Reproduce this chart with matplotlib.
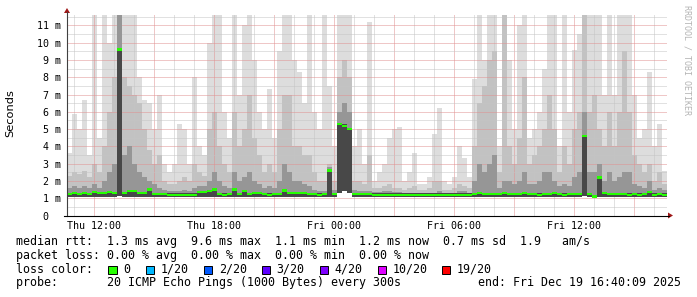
import matplotlib
matplotlib.use("Agg")
import matplotlib.pyplot as plt
from matplotlib.lines import Line2D
from matplotlib.patches import Polygon, Rectangle
import numpy as np

# ---------------- data (values in ms, one value per 15-minute step) ----------------
start_hour = 10 + 40 / 60          # Thu 10:40
step_hours = 0.25

smoke_max = [
    3.6, 5.9, 5.0, 6.7, 3.5, 11.6, 4.5, 11.6, 10.0, 11.6,
    11.6, 11.6, 11.6, 11.6, 8.0, 6.7, 6.5, 5.0, 7.0, 3.0,
    2.5, 3.0, 5.3, 5.0, 3.0, 8.0, 4.0, 3.5, 10.0, 11.6,
    11.6, 6.0, 4.5, 11.6, 7.0, 11.0, 11.6, 9.0, 6.0, 5.0,
    7.3, 4.5, 9.5, 11.6, 11.6, 9.0, 8.3, 6.5, 11.6, 6.0,
    5.0, 11.6, 7.5, 4.0, 11.6, 11.6, 11.6, 4.0, 5.0, 3.0,
    11.2, 2.0, 2.5, 3.0, 4.5, 5.0, 5.1, 2.0, 2.5, 3.6,
    1.8, 1.8, 2.2, 4.7, 6.2, 2.0, 1.8, 2.2, 4.0, 3.3,
    2.2, 7.9, 11.6, 9.0, 11.6, 11.6, 4.0, 11.6, 9.0, 5.0,
    11.0, 11.6, 4.5, 5.0, 6.0, 8.5, 11.6, 11.6, 4.0, 11.6,
    6.0, 9.6, 10.5, 11.6, 11.6, 11.6, 11.6, 7.0, 11.6, 7.0,
    11.6, 11.6, 11.6, 7.0, 4.5, 5.0, 8.3, 4.0, 5.3, 2.6,
]
smoke_mid = [
    2.3, 2.5, 2.4, 2.6, 2.2, 3.0, 2.5, 4.0, 6.0, 8.0,
    11.6, 8.0, 7.5, 7.0, 6.5, 5.0, 3.8, 3.0, 3.5, 2.0,
    1.8, 1.8, 2.0, 2.2, 2.0, 3.0, 2.5, 2.3, 5.0, 6.0,
    4.0, 3.0, 2.5, 6.0, 4.0, 5.0, 7.0, 4.5, 3.5, 2.5,
    3.0, 2.5, 5.0, 7.0, 7.0, 4.0, 4.0, 3.5, 3.5, 2.5,
    2.0, 2.0, 3.0, 2.0, 8.0, 9.0, 8.0, 2.0, 2.0, 1.8,
    3.5, 1.6, 1.6, 1.7, 1.8, 1.6, 1.6, 1.5, 1.6, 1.7,
    1.5, 1.5, 1.6, 2.0, 2.0, 1.5, 1.5, 1.6, 1.8, 1.7,
    1.6, 4.0, 6.5, 7.5, 9.0, 9.5, 2.5, 11.6, 4.0, 3.0,
    4.5, 8.0, 3.0, 3.5, 4.0, 5.0, 7.0, 5.0, 2.5, 4.0,
    3.0, 5.0, 6.0, 11.6, 6.0, 7.0, 5.0, 4.0, 6.0, 4.0,
    6.0, 9.5, 6.0, 3.5, 3.0, 2.5, 3.0, 2.0, 2.5, 1.8,
]
smoke_dark = [
    1.6, 1.7, 1.6, 1.7, 1.6, 1.8, 1.6, 2.0, 2.5, 3.0,
    11.6, 3.5, 4.0, 3.0, 2.5, 2.2, 2.0, 1.8, 1.6, 1.5,
    1.4, 1.4, 1.4, 1.5, 1.4, 1.6, 1.7, 1.7, 2.0, 2.5,
    2.0, 1.7, 1.6, 2.5, 2.0, 2.2, 2.5, 2.0, 1.8, 1.6,
    1.7, 1.6, 2.0, 3.0, 2.5, 2.0, 2.0, 1.8, 1.7, 1.5,
    1.4, 1.4, 2.8, 1.5, 6.0, 6.5, 6.0, 1.5, 1.4, 1.4,
    1.4, 1.35, 1.35, 1.4, 1.4, 1.35, 1.35, 1.3, 1.3, 1.3,
    1.3, 1.3, 1.3, 1.3, 1.4, 1.3, 1.3, 1.3, 1.4, 1.4,
    1.3, 2.0, 3.0, 2.5, 3.0, 3.5, 1.6, 2.0, 2.0, 1.8,
    2.0, 2.5, 1.8, 1.8, 2.0, 2.5, 2.5, 2.0, 1.7, 1.8,
    1.7, 2.2, 2.5, 6.0, 2.5, 2.5, 3.0, 2.0, 2.5, 2.0,
    2.2, 2.5, 2.5, 1.8, 1.7, 1.6, 2.0, 1.5, 1.6, 1.5,
]
smoke_min = [
    1.06, 1.07, 1.06, 1.07, 1.06, 1.07, 1.06, 1.07, 1.08, 1.07,
    1.10, 1.07, 1.08, 1.08, 1.07, 1.07, 1.08, 1.06, 1.06, 1.06,
    1.05, 1.05, 1.05, 1.05, 1.05, 1.05, 1.07, 1.07, 1.08, 1.08,
    1.06, 1.05, 1.06, 1.08, 1.06, 1.07, 1.06, 1.07, 1.07, 1.06,
    1.05, 1.06, 1.06, 1.08, 1.07, 1.07, 1.07, 1.07, 1.06, 1.06,
    1.05, 1.06, 1.07, 1.06, 1.30, 1.40, 1.30, 1.06, 1.06, 1.06,
    1.06, 1.05, 1.05, 1.05, 1.05, 1.05, 1.05, 1.05, 1.05, 1.05,
    1.05, 1.05, 1.05, 1.05, 1.05, 1.05, 1.05, 1.05, 1.05, 1.05,
    1.05, 1.06, 1.07, 1.06, 1.06, 1.06, 1.06, 1.07, 1.06, 1.06,
    1.06, 1.07, 1.06, 1.06, 1.05, 1.06, 1.06, 1.07, 1.06, 1.05,
    1.06, 1.06, 1.06, 1.10, 1.06, 1.00, 1.08, 1.07, 1.06, 1.06,
    1.06, 1.06, 1.05, 1.06, 1.05, 1.06, 1.07, 1.05, 1.06, 1.05,
]
median_rtt = [
    1.25, 1.3, 1.25, 1.3, 1.25, 1.35, 1.3, 1.3, 1.35, 1.3,
    9.6, 1.3, 1.4, 1.4, 1.3, 1.3, 1.5, 1.25, 1.25, 1.25,
    1.2, 1.2, 1.2, 1.2, 1.2, 1.2, 1.35, 1.35, 1.4, 1.5,
    1.25, 1.2, 1.25, 1.5, 1.25, 1.4, 1.25, 1.3, 1.3, 1.25,
    1.2, 1.25, 1.25, 1.45, 1.3, 1.3, 1.3, 1.3, 1.25, 1.25,
    1.2, 1.25, 2.6, 1.25, 5.3, 5.2, 5.0, 1.25, 1.25, 1.25,
    1.25, 1.2, 1.2, 1.2, 1.2, 1.2, 1.2, 1.2, 1.2, 1.2,
    1.2, 1.2, 1.2, 1.2, 1.2, 1.2, 1.2, 1.2, 1.2, 1.2,
    1.2, 1.25, 1.3, 1.25, 1.25, 1.25, 1.25, 1.3, 1.25, 1.25,
    1.25, 1.3, 1.25, 1.25, 1.2, 1.25, 1.25, 1.3, 1.25, 1.2,
    1.25, 1.25, 1.25, 4.6, 1.25, 1.1, 2.2, 1.3, 1.25, 1.25,
    1.25, 1.25, 1.2, 1.25, 1.2, 1.25, 1.35, 1.2, 1.25, 1.2,
]

y_ticks = [0, 1, 2, 3, 4, 5, 6, 7, 8, 9, 10, 11]
y_tick_labels = [" 0", " 1 m", " 2 m", " 3 m", " 4 m", " 5 m", " 6 m",
                 " 7 m", " 8 m", " 9 m", "10 m", "11 m"]
x_major_ticks = [12, 15, 18, 21, 24, 27, 30, 33, 36, 39]
x_major_labels = ["Thu 12:00", "", "Thu 18:00", "", "Fri 00:00", "",
                  "Fri 06:00", "", "Fri 12:00", ""]

loss_labels = ["0", "1/20", "2/20", "3/20", "4/20", "10/20", "19/20"]
loss_colors = ["#26ff00", "#00b8ff", "#0059ff", "#5e00ff", "#7e00ff", "#dd00ff", "#ff0000"]

legend_line1 = "median rtt:  1.3 ms avg  9.6 ms max  1.1 ms min  1.2 ms now  0.7 ms sd  1.9   am/s"
legend_line2 = "packet loss: 0.00 % avg  0.00 % max  0.00 % min  0.00 % now"
legend_line3 = "loss color:"
legend_line4 = "probe:       20 ICMP Echo Pings (1000 Bytes) every 300s"
legend_end = "end: Fri Dec 19 16:40:09 2025"

# ---------------- figure ----------------
W, H = 697, 297
DPI = 100
fig = plt.figure(figsize=(W / DPI, H / DPI), dpi=DPI)
fig.patch.set_facecolor("white")

L, R, B, T = 67, 667, 215.5, 14
px_per_ms = 17.28
ax = fig.add_axes([L / W, 1 - B / H, (R - L) / W, (B - T) / H])
ax.set_facecolor("white")
ax.set_xlim(start_hour, start_hour + 30)
ax.set_ylim(0, (B - T) / px_per_ms)

n = len(median_rtt)
edges = start_hour + step_hours * np.arange(n + 1)
lo = np.array(smoke_min)
med = np.array(median_rtt)

ax.stairs(smoke_max, edges, baseline=lo, fill=True, color="#dddddd", lw=0, zorder=1)
ax.stairs(smoke_mid, edges, baseline=lo, fill=True, color="#c2c2c2", lw=0, zorder=2)
ax.stairs(smoke_dark, edges, baseline=lo, fill=True, color="#969696", lw=0, zorder=3)
ax.stairs(med + 0.08, edges, baseline=lo, fill=True, color="#484848", lw=0, zorder=4)
ax.stairs(med + 0.065, edges, baseline=med - 0.065, fill=True, color="#26ff00",
          lw=0, zorder=7)

# grid
ax.set_yticks(y_ticks)
ax.set_yticklabels(y_tick_labels, ha="left", family="DejaVu Sans Mono", fontsize=7.2)
ax.set_yticks(np.arange(0.5, 11.6, 1.0), minor=True)
ax.set_xticks(x_major_ticks)
ax.set_xticklabels(x_major_labels, family="DejaVu Sans Mono", fontsize=7.2)
ax.set_xticks(np.arange(11, 41, 1), minor=True)
ax.tick_params(axis="y", which="both", length=0, pad=21.6)
ax.tick_params(axis="x", which="both", length=0, pad=4.0)
ax.grid(which="minor", color="#c4c4c4", lw=0.72, ls=(0, (1, 1)), zorder=5)
ax.grid(which="major", color="#e09090", lw=0.72, ls=(0, (1, 1)), zorder=6)
ax.set_axisbelow(False)
for s in ax.spines.values():
    s.set_visible(False)

ax.set_ylabel("Seconds", family="DejaVu Sans", fontsize=8.2)
ax.yaxis.set_label_coords((15 - L) / (R - L), (B - 113) / (B - T))

# axis lines and arrows (figure pixel helpers)
def fx(px):
    return px / W

def fy(py):
    return 1 - py / H

fig.add_artist(Line2D([fx(67), fx(67)], [fy(216), fy(12)], color="#404040", lw=0.8))
fig.add_artist(Line2D([fx(64), fx(669)], [fy(215.5), fy(215.5)], color="#000000", lw=0.8))
fig.add_artist(Polygon([[fx(64), fy(13)], [fx(70), fy(13)], [fx(67), fy(8)]],
                       closed=True, color="#a01818", lw=0))
fig.add_artist(Polygon([[fx(668), fy(212.5)], [fx(668), fy(218.5)], [fx(673), fy(215.5)]],
                       closed=True, color="#a01818", lw=0))

# watermark
fig.text(fx(687), fy(5), "RRDTOOL / TOBI OETIKER", rotation=270, ha="center", va="top",
         family="DejaVu Sans Mono", fontsize=6, color="#b4b4b4")

# legend text
mono = dict(family="DejaVu Sans Mono", fontsize=8.4, color="black", va="baseline", ha="left")
fig.text(fx(16), fy(245), legend_line1, **mono)
fig.text(fx(16), fy(258.8), legend_line2, **mono)
fig.text(fx(16), fy(272.6), legend_line3, **mono)
fig.text(fx(16), fy(286.4), legend_line4, **mono)
fig.text(fx(478), fy(286.4), legend_end, **mono)

box_x = [108.3, 146.0, 204.0, 262.0, 320.0, 378.0, 441.7]
for bx, lab, col in zip(box_x, loss_labels, loss_colors):
    fig.add_artist(Rectangle((fx(bx), fy(274)), 8.3 / W, 8.3 / H, facecolor=col,
                             edgecolor="black", lw=0.7))
    fig.text(fx(bx + 14.7), fy(272.6), lab, **mono)

fig.savefig("out.png", dpi=DPI, facecolor="white")
